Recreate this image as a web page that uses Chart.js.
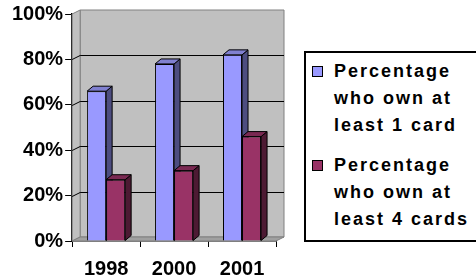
<!DOCTYPE html>
<html>
<head>
<meta charset="utf-8">
<script src="https://cdn.jsdelivr.net/npm/chart.js@4/dist/chart.umd.min.js"></script>
<style>
  body { margin: 0; background: #fff; }
  #wrap { position: relative; width: 476px; height: 278px; overflow: hidden; }
  #legend {
    position: absolute; left: 304px; top: 51px; width: 190px; height: 187px;
    border: 2px solid #000; background: #fff;
    font: bold 18px "Liberation Sans", Arial, sans-serif; letter-spacing: 2px;
    line-height: 27px; color: #000;
  }
  .item { position: relative; padding-left: 28px; }
  .item + .item { margin-top: 13px; }
  .swatch { position: absolute; left: 6px; top: 8px; width: 9px; height: 9px; border: 1.5px solid #000; }
</style>
</head>
<body>
<div id="wrap">
  <canvas id="chart" width="476" height="278"></canvas>
  <div id="legend"></div>
</div>
<script>
const years = ["1998", "2000", "2001"];
const ownAtLeastOne = [66, 78, 82];
const ownAtLeastFour = [27, 31, 46];
const seriesNames = [
  ["Percentage", "who own at", "least 1 card"],
  ["Percentage", "who own at", "least 4 cards"],
];
const yTicks = [0, 20, 40, 60, 80, 100];

// face colours: front, side, top
const faceColors = [
  { front: "#9999ff", side: "#4d4d80", top: "#8080d0" },
  { front: "#993366", side: "#4d1a33", top: "#7a2952" },
];

const WALL_DX = 8, WALL_DY = -4;
const BAR_DX = 6, BAR_DY = -5;

function poly(ctx, pts, fill, stroke) {
  ctx.beginPath();
  ctx.moveTo(pts[0][0], pts[0][1]);
  for (let i = 1; i < pts.length; i++) ctx.lineTo(pts[i][0], pts[i][1]);
  ctx.closePath();
  ctx.fillStyle = fill;
  ctx.fill();
  if (stroke) {
    ctx.strokeStyle = stroke;
    ctx.lineWidth = 1;
    ctx.stroke();
  }
}

const depth3d = {
  id: "depth3d",
  beforeDatasetsDraw(chart) {
    const ctx = chart.ctx;
    const a = chart.chartArea;
    const y = chart.scales.y;
    ctx.save();
    // back wall, side wall, floor
    poly(ctx, [[a.left + WALL_DX, a.top + WALL_DY], [a.right + WALL_DX, a.top + WALL_DY],
               [a.right + WALL_DX, a.bottom + WALL_DY], [a.left + WALL_DX, a.bottom + WALL_DY]], "#c0c0c0", "#808080");
    poly(ctx, [[a.left, a.top], [a.left + WALL_DX, a.top + WALL_DY],
               [a.left + WALL_DX, a.bottom + WALL_DY], [a.left, a.bottom]], "#c0c0c0", "#808080");
    poly(ctx, [[a.left, a.bottom], [a.left + WALL_DX, a.bottom + WALL_DY],
               [a.right + WALL_DX, a.bottom + WALL_DY], [a.right, a.bottom]], "#a0a0a0", "#808080");

    // gridlines on the walls
    ctx.strokeStyle = "#000";
    ctx.lineWidth = 1;
    yTicks.forEach((v) => {
      if (v === 0 || v === 100) return;
      const py = Math.round(y.getPixelForValue(v)) + 0.5;
      ctx.beginPath();
      ctx.moveTo(a.left, py);
      ctx.lineTo(a.left + WALL_DX, py + WALL_DY);
      ctx.lineTo(a.right + WALL_DX, py + WALL_DY);
      ctx.stroke();
    });

    // bar sides and tops
    chart.data.datasets.forEach((ds, i) => {
      const meta = chart.getDatasetMeta(i);
      const c = faceColors[i];
      meta.data.forEach((bar) => {
        const p = bar.getProps(["x", "y", "base", "width"], true);
        const l = p.x - p.width / 2, r = p.x + p.width / 2;
        poly(ctx, [[r, p.y], [r + BAR_DX, p.y + BAR_DY], [r + BAR_DX, p.base + BAR_DY], [r, p.base]], c.side, "#000");
        poly(ctx, [[l, p.y], [l + BAR_DX, p.y + BAR_DY], [r + BAR_DX, p.y + BAR_DY], [r, p.y]], c.top, "#000");
      });
    });
    ctx.restore();
  },
};

const fontFamily = "'Liberation Sans', Arial, sans-serif";

new Chart(document.getElementById("chart"), {
  type: "bar",
  data: {
    labels: years,
    datasets: [
      { label: seriesNames[0].join(" "), data: ownAtLeastOne },
      { label: seriesNames[1].join(" "), data: ownAtLeastFour },
    ].map((ds, i) => Object.assign(ds, {
      backgroundColor: faceColors[i].front,
      borderColor: "#000",
      borderWidth: 1,
      categoryPercentage: 0.56,
      barPercentage: 1.0,
    })),
  },
  options: {
    responsive: false,
    animation: false,
    layout: { padding: { top: 12, right: 200, bottom: 0, left: 10 } },
    plugins: { legend: { display: false }, tooltip: { enabled: false } },
    scales: {
      x: {
        afterFit: (scale) => { scale.height = 37; },
        grid: { drawOnChartArea: false, tickLength: 6, color: "#000" },
        border: { color: "#000", width: 1.5 },
        ticks: { font: { family: fontFamily, size: 20, weight: "bold", lineHeight: "17px" }, color: "#000", padding: 14 },
      },
      y: {
        min: 0,
        max: 100,
        afterBuildTicks: (scale) => { scale.ticks = yTicks.map((v) => ({ value: v })); },
        grid: { drawOnChartArea: false, tickLength: 7, color: "#000" },
        border: { color: "#000", width: 1.5 },
        ticks: { font: { family: fontFamily, size: 20, weight: "bold" }, color: "#000", padding: 2, callback: (v) => v + "%" },
      },
    },
  },
  plugins: [depth3d],
});

// legend
const legend = document.getElementById("legend");
seriesNames.forEach((lines, i) => {
  const item = document.createElement("div");
  item.className = "item";
  const sw = document.createElement("span");
  sw.className = "swatch";
  sw.style.background = faceColors[i].front;
  item.appendChild(sw);
  lines.forEach((t, j) => {
    if (j) item.appendChild(document.createElement("br"));
    item.appendChild(document.createTextNode(t));
  });
  legend.appendChild(item);
});
legend.firstChild.style.marginTop = "5px";
</script>
</body>
</html>
